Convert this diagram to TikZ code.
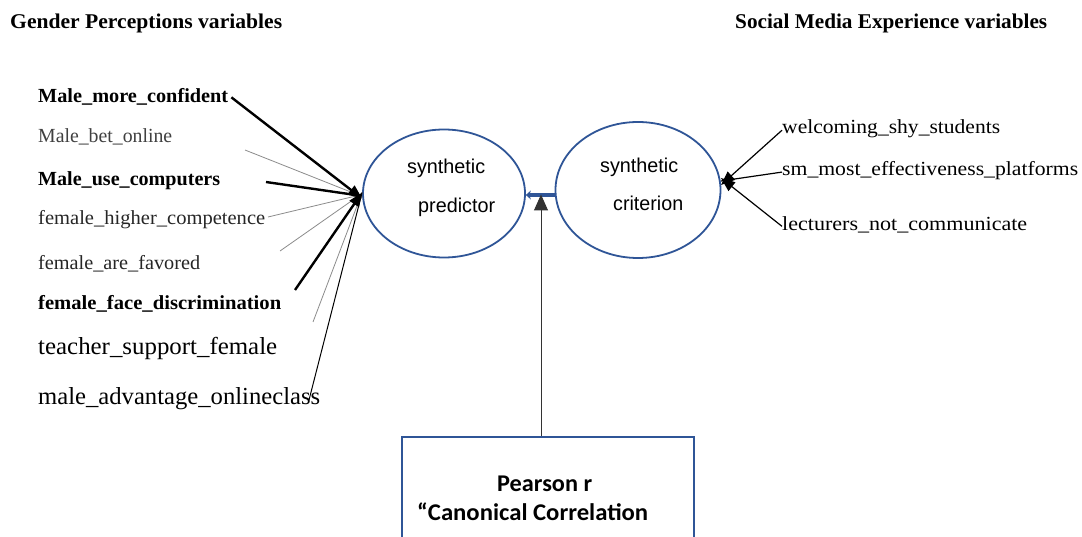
\documentclass[tikz,border=0pt]{standalone}
\usepackage{fontspec}
\setmainfont{Liberation Serif}
\newfontfamily\arialf{Liberation Sans}
\newfontfamily\calib{Carlito}
\usetikzlibrary{arrows.meta,shapes.geometric}
\definecolor{eblue}{RGB}{47,85,151}
\newcommand\fw[2]{\resizebox{#1pt}{\height}{#2}}
\begin{document}
\begin{tikzpicture}[x=1pt,y=-1pt,
  lab/.style={anchor=base west, inner sep=0pt, font=\fontsize{20}{22}\selectfont},
  labb/.style={lab, font=\fontsize{20}{22}\selectfont\bfseries},
  labbig/.style={lab, font=\fontsize{24.5}{26}\selectfont},
  hdr/.style={lab, font=\fontsize{21}{23}\selectfont\bfseries},
  etxt/.style={lab, font=\arialf\fontsize{20}{22}\selectfont},
  btxt/.style={lab, font=\calib\bfseries\fontsize{24}{26}\selectfont},
  ell/.style={draw=eblue, line width=1.8pt, ellipse, inner sep=0pt},
  heavy/.style={black, line width=2.4pt},
  light/.style={black!45, line width=0.8pt},
  thinb/.style={black, line width=1pt},
  tip/.style={-{Triangle[length=14pt,width=11pt]}},
]
\useasboundingbox (0,0) rectangle (1082,537);
\fill[white] (0,0) rectangle (1082,537);

% headers
\node[hdr] (h1) at (10,29) {\fw{272}{Gender Perceptions variables}};
\node[hdr] (h2) at (735,29) {\fw{312}{Social Media Experience variables}};

% left labels
\node[labb] (l1) at (38,103) {\fw{190}{Male\_more\_confident}};
\node[lab, text=black!75] (l2) at (38,143) {\fw{134}{Male\_bet\_online}};
\node[labb] (l3) at (38,186) {\fw{182}{Male\_use\_computers}};
\node[lab, text=black!85] (l4) at (38,225) {\fw{227}{female\_higher\_competence}};
\node[lab, text=black!85] (l5) at (38,270) {\fw{162}{female\_are\_favored}};
\node[labb] (l6) at (38,310) {\fw{243}{female\_face\_discrimination}};
\node[labbig] (l7) at (38,355) {\fw{239}{teacher\_support\_female}};
\node[labbig] (l8) at (38,404) {\fw{282}{male\_advantage\_onlineclass}};

% right labels
\node[lab] (r1) at (782,134) {\fw{218}{welcoming\_shy\_students}};
\node[lab] (r2) at (782,176) {\fw{296}{sm\_most\_effectiveness\_platforms}};
\node[lab] (r3) at (782,231) {\fw{245}{lecturers\_not\_communicate}};

% ellipses
\node[ell, minimum width=162pt, minimum height=128pt] (pred) at (444,193.5) {};
\node[ell, minimum width=165pt, minimum height=136pt] (crit) at (638,190) {};
\node[etxt] (p1) at (407,174) {\fw{78}{synthetic}};
\node[etxt] (p2) at (418,213) {\fw{77}{predictor}};
\node[etxt] (c1) at (600,173) {\fw{78}{synthetic}};
\node[etxt] (c2) at (613,211) {\fw{70}{criterion}};

% box
\node[draw=eblue, line width=1.8pt, minimum width=292pt, minimum height=130pt, anchor=north west, inner sep=0pt] (box) at (401,436) {};
\node[btxt] (t1) at (497,491) {\fw{95}{Pearson r}};
\node[btxt] (t2) at (417,520) {\fw{231}{“Canonical Correlation}};

% free ends
\coordinate (s2) at (245,150);
\coordinate (s3) at (266,182);
\coordinate (s4) at (268,217);
\coordinate (s5) at (280,251);
\coordinate (s6) at (295,290);
\coordinate (s7) at (313,322);
\coordinate (s8) at (309,400);

% left connectors
\draw[light] (s2) -- ([yshift=-3pt]pred.west);
\draw[light] (s4) -- ([yshift=-1pt]pred.west);
\draw[light] (s5) -- ([yshift=0pt]pred.west);
\draw[light] (s7) -- ([yshift=1pt]pred.west);
\draw[thinb] (s8) -- ([yshift=1pt]pred.west);
\draw[heavy] (s3) -- ([xshift=-3pt,yshift=-2pt]pred.west);
\draw[heavy, tip] ([xshift=3pt]l1.east) -- ([yshift=-5pt]pred.west);
\draw[heavy, tip] (s6) -- ([yshift=1pt]pred.west);

% right connectors
\coordinate (cr) at (721,181);
\draw[black, line width=1.2pt, tip] ([yshift=-1pt]r1.west) -- ([yshift=-4pt]cr);
\draw[black, line width=1.2pt] ([yshift=-1pt]r2.west) -- (cr);
\draw[black, line width=1.2pt, tip] ([yshift=-1pt]r3.west) -- ([yshift=3pt]cr);

% between ellipses
\draw[eblue, line width=4pt, {Stealth[length=5pt,width=9pt]}-] ([yshift=-1.5pt]pred.east) -- ([yshift=-1.5pt]pred.east -| crit.west);
\draw[black!80, line width=1pt, -{Triangle[length=16pt,width=14pt]}] ([xshift=140pt]box.north west) -- ([xshift=140pt,yshift=-1pt]box.north west |- pred.east);
\end{tikzpicture}
\end{document}
